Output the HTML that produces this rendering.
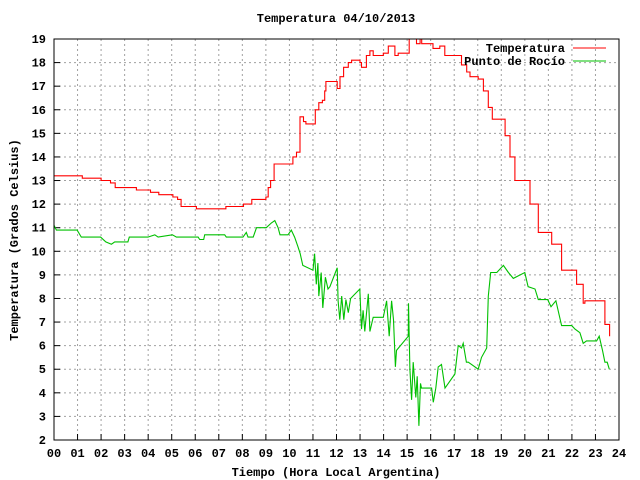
<!DOCTYPE html>
<html><head><meta charset="utf-8"><style>
html,body{margin:0;padding:0;background:#fff}
svg{display:block}
text{font-family:"Liberation Mono",monospace;font-weight:bold;font-size:12px;fill:#000}
</style></head><body>
<svg id="chart" width="640" height="480" viewBox="0 0 640 480" xmlns="http://www.w3.org/2000/svg">
<text x="336" y="22" text-anchor="middle">Temperatura 04/10/2013</text>
<text x="336" y="476" text-anchor="middle">Tiempo (Hora Local Argentina)</text>
<text transform="translate(18,240) rotate(-90)" text-anchor="middle">Temperatura (Grados Celsius)</text>
<g id="grid"></g><g id="series"></g>
<rect x="54" y="39" width="565" height="401" fill="none" stroke="#000" stroke-width="1"/>
<g>
<text x="565" y="52" text-anchor="end">Temperatura</text>
<line x1="573" y1="48" x2="606" y2="48" stroke="#ff0000"/>
<text x="565" y="65" text-anchor="end">Punto de Rocío</text>
<line x1="573" y1="61" x2="606" y2="61" stroke="#00c000"/>
</g>
</svg>
<script>
const xTicks=["00","01","02","03","04","05","06","07","08","09","10","11","12","13","14","15","16","17","18","19","20","21","22","23","24"];
const yTicks=[2,3,4,5,6,7,8,9,10,11,12,13,14,15,16,17,18,19];
const tempHours=[0,1.2,1.2,2.0,2.0,2.4,2.4,2.55,2.6,3.5,3.5,4.05,4.1,4.4,4.45,5.0,5.05,5.2,5.25,5.35,5.4,6.0,6.05,7.25,7.3,8.0,8.05,8.35,8.4,8.9,9.0,9.1,9.2,9.35,9.5,10.0,10.15,10.3,10.45,10.6,10.7,11.0,11.1,11.25,11.4,11.5,11.55,11.72,12.03,12.15,12.3,12.5,12.64,13.0,13.06,13.27,13.42,13.56,13.99,14.2,14.34,14.48,14.62,15.0,15.09,15.4,15.55,15.62,16.04,16.1,16.39,16.6,17.17,17.31,17.53,17.67,18.02,18.24,18.45,18.62,19.02,19.16,19.37,19.58,20.0,20.22,20.57,20.99,21.14,21.56,21.99,22.2,22.48,22.55,23.19,23.4,23.6];
const tempValues=[13.2,13.2,13.1,13.1,13.0,13.0,12.9,12.9,12.7,12.7,12.6,12.6,12.5,12.5,12.4,12.4,12.3,12.3,12.2,12.2,11.9,11.9,11.8,11.8,11.9,11.9,12.0,12.0,12.2,12.2,12.3,12.7,13.0,13.7,13.7,13.7,14.0,14.2,15.7,15.5,15.4,15.4,16.0,16.3,16.4,16.8,17.2,17.2,16.9,17.4,17.8,18.0,18.1,18.0,17.8,18.3,18.5,18.3,18.4,18.7,18.7,18.3,18.4,18.4,19.0,18.8,19.0,18.8,18.8,18.6,18.7,18.3,18.3,17.9,17.6,17.4,17.3,16.8,16.1,15.6,15.6,14.9,14.0,13.0,13.0,12.0,10.8,10.8,10.3,9.2,9.2,8.6,7.8,7.9,7.9,6.9,6.4];
const dewHours=[0,0.1,0.98,1.16,1.98,2.2,2.44,2.58,3.14,3.2,3.99,4.28,4.42,5.03,5.2,6.12,6.19,6.36,6.40,7.25,7.32,8.03,8.17,8.24,8.46,8.6,9.02,9.23,9.38,9.52,9.6,9.94,10.08,10.22,10.36,10.46,10.57,11.0,11.07,11.14,11.21,11.25,11.35,11.42,11.53,11.64,11.72,12.03,12.07,12.14,12.22,12.31,12.4,12.5,12.6,12.99,13.06,13.13,13.2,13.35,13.42,13.56,13.99,14.13,14.24,14.34,14.42,14.5,14.55,15.05,15.06,15.12,15.19,15.26,15.37,15.43,15.5,15.57,15.61,16.04,16.11,16.22,16.32,16.46,16.61,17.03,17.17,17.31,17.38,17.52,17.6,18.02,18.16,18.38,18.45,18.55,18.81,19.09,19.3,19.51,20.0,20.14,20.43,20.57,20.97,21.11,21.32,21.56,21.99,22.13,22.34,22.48,22.62,23.05,23.16,23.3,23.4,23.5,23.59];
const dewValues=[11.1,10.9,10.9,10.6,10.6,10.4,10.3,10.4,10.4,10.6,10.6,10.7,10.6,10.7,10.6,10.6,10.5,10.5,10.7,10.7,10.6,10.6,10.8,10.6,10.6,11.0,11.0,11.2,11.3,11.0,10.7,10.7,10.9,10.6,10.2,9.9,9.4,9.2,9.9,8.6,9.5,8.1,9.1,7.6,8.9,8.4,8.5,9.3,7.9,7.1,8.1,7.1,7.95,7.4,8.0,8.4,6.7,7.5,6.6,8.2,6.6,7.2,7.2,7.9,6.4,7.9,7.1,5.1,5.8,6.4,7.8,5.0,3.7,5.3,3.8,4.7,2.6,4.4,4.2,4.2,3.6,4.2,5.1,5.2,4.2,4.8,6.0,5.9,6.1,5.3,5.3,5.0,5.5,5.9,8.1,9.1,9.1,9.4,9.1,8.85,9.1,8.5,8.4,7.95,7.95,7.65,7.9,6.85,6.85,6.7,6.55,6.1,6.2,6.2,6.4,5.8,5.3,5.3,5.0];
const L=54,R=619,T=39,B=440;
const xs=h=>L+(R-L)*h/24;
const ys=v=>B-(B-T)*(v-2)/17;
const NS="http://www.w3.org/2000/svg";
const grid=document.getElementById('grid'), ser=document.getElementById('series');
function mk(tag,attrs,parent){const e=document.createElementNS(NS,tag);for(const k in attrs)e.setAttribute(k,attrs[k]);parent.appendChild(e);return e;}
xTicks.forEach((t,i)=>{
 const x=xs(i);
 if(i>0&&i<24){const g=mk('line',{x1:x,y1:T,x2:x,y2:B,stroke:'#a0a0a0','stroke-dasharray':'2,3'},grid);
 
 }
 const tk=mk('line',{x1:x,y1:B,x2:x,y2:B-6,stroke:'#000'},grid);
 
 
 const tx=mk('text',{x:x,y:B+17,'text-anchor':'middle'},grid);tx.textContent=t;
 
 
});
yTicks.forEach(v=>{
 const y=ys(v);
 if(v>2&&v<19){const g=mk('line',{x1:L,y1:y,x2:R,y2:y,stroke:'#a0a0a0','stroke-dasharray':'2,3'},grid);
 
 }
 const tk=mk('line',{x1:L,y1:y,x2:L+6,y2:y,stroke:'#000'},grid);
 
 
 const tx=mk('text',{x:L-8,y:y+4,'text-anchor':'end'},grid);tx.textContent=String(v);
 
 
});
function line(hs,vs,color,name,step){
 let d='';
 hs.forEach((h,i)=>{
  const x=xs(h).toFixed(1), y=ys(vs[i]).toFixed(1);
  if(i===0){d+='M'+x+','+y;return;}
  if(step){d+='L'+x+','+ys(vs[i-1]).toFixed(1);}
  d+='L'+x+','+y;
 });
 const p=mk('path',{d:d,fill:'none',stroke:color,'stroke-width':1.1},ser);
 
 
}
line(tempHours,tempValues,'#ff0000','temperatura-line',true);
line(dewHours,dewValues,'#00c000','punto-de-rocio-line',false);
</script>
</body></html>
